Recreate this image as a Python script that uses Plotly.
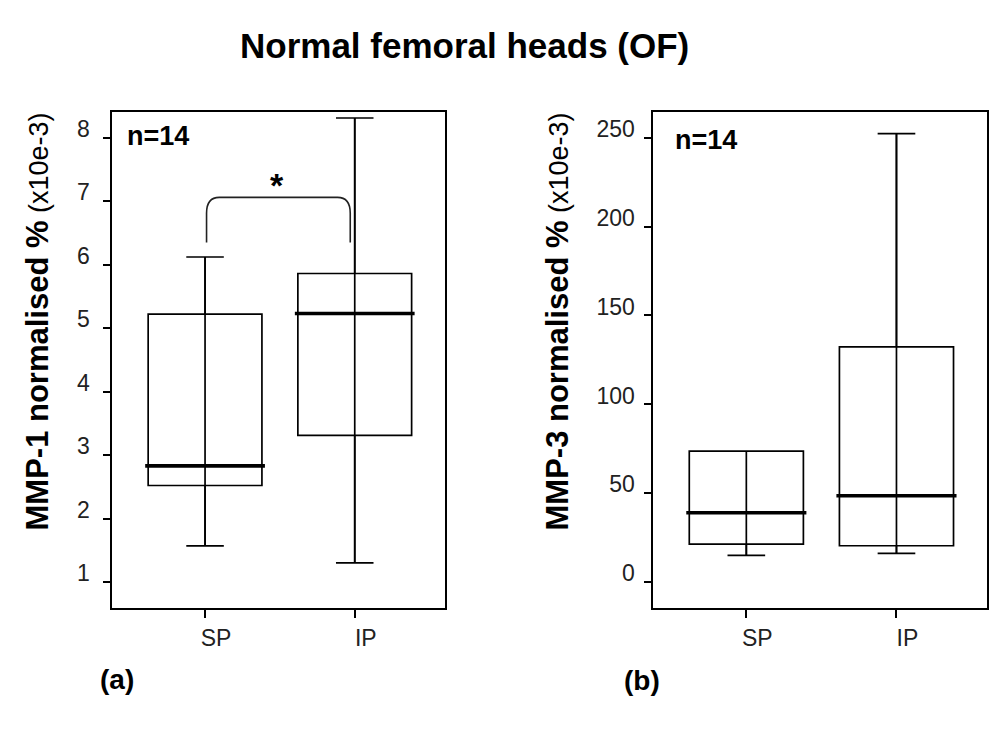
import plotly.graph_objects as go

# ---- data ----
categories = ["SP", "IP"]
positions = [1, 2]

# Panel (a): MMP-1
a_low = [1.57, 1.30]
a_q1 = [2.52, 3.31]
a_median = [2.83, 5.23]
a_q3 = [5.22, 5.86]
a_high = [6.12, 8.31]
a_ticks = [1, 2, 3, 4, 5, 6, 7, 8]

# Panel (b): MMP-3
b_low = [15.2, 16.3]
b_q1 = [21.5, 20.6]
b_median = [39.1, 48.7]
b_q3 = [73.8, 132.4]
b_high = [73.8, 252.2]
b_ticks = [0, 50, 100, 150, 200, 250]

# significance bracket (panel a)
bracket_x = [1.01, 1.97]
bracket_bottom = 6.35
bracket_top = 7.06
star_x = 1.48

BOX_W = 0.76
FONT = "Liberation Sans"

W, H = 988, 723  # page body has an 8px margin


def px(x):
    return (x - 8) / W


def py(y):
    return 1 - (y - 8) / H


fig = go.Figure()


def add_panel(low, q1, med, q3, high, xa, ya):
    fig.add_trace(go.Box(
        x=positions, q1=q1, median=med, q3=q3, lowerfence=low, upperfence=high,
        width=BOX_W, whiskerwidth=0.33, boxpoints=False,
        line=dict(color="black", width=1.7), fillcolor="rgba(255,255,255,0)",
        xaxis=xa, yaxis=ya, showlegend=False, hoverinfo="skip"))
    vx, vy = [], []
    for p, lo, hi in zip(positions, low, high):
        vx += [p, p, None]
        vy += [lo, hi, None]
    fig.add_trace(go.Scatter(x=vx, y=vy, mode="lines",
                             line=dict(color="black", width=1.7),
                             xaxis=xa, yaxis=ya, showlegend=False, hoverinfo="skip"))
    mx, my = [], []
    for p, m in zip(positions, med):
        mx += [p - BOX_W / 2 - 0.02, p + BOX_W / 2 + 0.02, None]
        my += [m, m, None]
    fig.add_trace(go.Scatter(x=mx, y=my, mode="lines",
                             line=dict(color="black", width=3.6),
                             xaxis=xa, yaxis=ya, showlegend=False, hoverinfo="skip"))


add_panel(a_low, a_q1, a_median, a_q3, a_high, "x", "y")
add_panel(b_low, b_q1, b_median, b_q3, b_high, "x2", "y2")

x0, x1 = bracket_x
dx, dy = 0.085, 0.25
path = (f"M {x0},{bracket_bottom} L {x0},{bracket_top - dy} "
        f"Q {x0},{bracket_top} {x0 + dx},{bracket_top} "
        f"L {x1 - dx},{bracket_top} Q {x1},{bracket_top} {x1},{bracket_top - dy} "
        f"L {x1},{bracket_bottom}")
fig.add_shape(type="path", path=path, xref="x", yref="y",
              line=dict(color="#222", width=1.6))

tickfont = dict(family=FONT, size=23, color="#222")
axis_common = dict(showline=True, linecolor="black", linewidth=2, mirror=True,
                   showgrid=False, zeroline=False, ticks="outside",
                   tickcolor="black", tickwidth=1.6, tickfont=tickfont)

ydom = [py(608), py(112.3)]
fig.update_layout(
    width=W, height=H, autosize=False,
    margin=dict(l=0, r=0, t=0, b=0),
    paper_bgcolor="white", plot_bgcolor="white",
    xaxis=dict(domain=[px(111.5), px(445)], range=[0.375, 2.603],
               tickvals=positions, ticktext=categories, ticklen=8,
               ticklabelshift=11, ticklabelstandoff=0, **axis_common),
    yaxis=dict(domain=ydom, range=[0.59, 8.40],
               tickvals=a_ticks, ticklen=7, ticklabelshift=-9,
               ticklabelstandoff=8, **axis_common),
    xaxis2=dict(domain=[px(652.5), px(987)], range=[0.375, 2.603], anchor="y2",
                tickvals=positions, ticktext=categories, ticklen=8,
                ticklabelshift=11, ticklabelstandoff=0, **axis_common),
    yaxis2=dict(domain=ydom, range=[-14.4, 264.2], anchor="x2",
                tickvals=b_ticks, ticklen=7, ticklabelshift=-9,
                ticklabelstandoff=4, **axis_common),
)

ytitle_a = ("<b>MMP-1 normalised %</b>"
            "<span style='font-size:27px;font-weight:normal'> (x10e-3)</span>")
ytitle_b = ("<b>MMP-3 normalised %</b>"
            "<span style='font-size:27px;font-weight:normal'> (x10e-3)</span>")

ann = []
ann.append(dict(text="<b>Normal femoral heads (OF)</b>", x=px(464), y=py(45),
                xanchor="center", yanchor="middle",
                xref="paper", yref="paper", showarrow=False,
                font=dict(family=FONT, size=35, color="black")))
ann.append(dict(text=ytitle_a, x=px(37), y=py(321.5), xanchor="center", yanchor="middle",
                xref="paper", yref="paper", showarrow=False, textangle=-90,
                font=dict(family=FONT, size=31, color="black")))
ann.append(dict(text=ytitle_b, x=px(557), y=py(321.5), xanchor="center", yanchor="middle",
                xref="paper", yref="paper", showarrow=False, textangle=-90,
                font=dict(family=FONT, size=31, color="black")))
ann.append(dict(text="<b>n=14</b>", x=px(125), y=py(136), xref="paper", yref="paper",
                xanchor="left", yanchor="middle", showarrow=False,
                font=dict(family=FONT, size=27, color="black")))
ann.append(dict(text="<b>n=14</b>", x=px(673), y=py(140), xref="paper", yref="paper",
                xanchor="left", yanchor="middle", showarrow=False,
                font=dict(family=FONT, size=27, color="black")))
ann.append(dict(text="<b>(a)</b>", x=px(117), y=py(679), xref="paper", yref="paper",
                xanchor="center", yanchor="middle", showarrow=False,
                font=dict(family=FONT, size=28, color="black")))
ann.append(dict(text="<b>(b)</b>", x=px(642), y=py(680), xref="paper", yref="paper",
                xanchor="center", yanchor="middle", showarrow=False,
                font=dict(family=FONT, size=28, color="black")))
ann.append(dict(text="<b>*</b>", x=star_x, y=bracket_top, xref="x", yref="y",
                xanchor="center", yanchor="bottom", yshift=-9, showarrow=False,
                font=dict(family=FONT, size=34, color="black")))
fig.update_layout(annotations=ann)

fig.write_html("out.html")
